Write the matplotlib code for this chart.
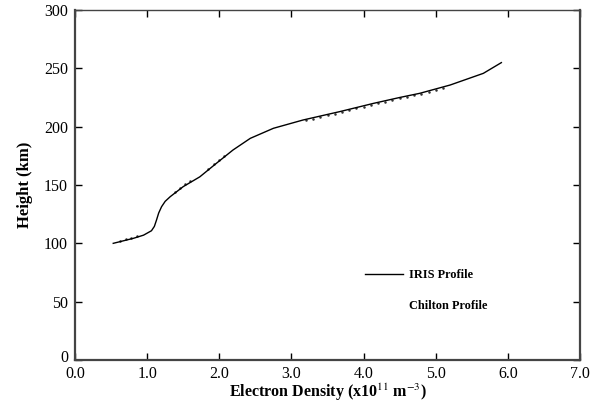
import matplotlib
matplotlib.use("Agg")
import matplotlib.pyplot as plt
import matplotlib.transforms as mtransforms
from matplotlib.lines import Line2D

# IRIS profile (electron density x1e11 m^-3, height km)
iris_density = [0.53, 0.81, 0.95, 1.06, 1.10, 1.13, 1.16, 1.20, 1.25, 1.32, 1.50, 1.73,
                1.96, 2.19, 2.43, 2.75, 3.16, 3.67, 4.14, 4.50, 4.78, 5.20, 5.66, 5.91]
iris_height = [100, 104.3, 107, 110.8, 114.5, 120, 126, 131.4, 136, 140, 148.6, 157,
               168.6, 180, 190, 198.6, 205.7, 212.9, 220, 225, 228.6, 235.7, 245.7, 254.9]

# Chilton profile (sparse dotted points)
chilton_density = [0.62, 0.70, 0.78, 0.86,
                   1.38, 1.45, 1.52, 1.59,
                   1.85, 1.92, 1.99, 2.06,
                   3.2, 3.3, 3.4, 3.5, 3.6, 3.7, 3.8, 3.9, 4.0, 4.1,
                   4.2, 4.3, 4.4, 4.5, 4.6, 4.7, 4.8, 4.9, 5.0, 5.1]
chilton_height = [102.4, 103.6, 104.8, 106.3,
                  144.4, 147.7, 150.8, 153.4,
                  164, 167.6, 171.1, 174.6,
                  205.5, 206.9, 208.3, 209.7, 211.1, 212.6, 214.1, 215.6, 217.1, 218.6,
                  220.0, 221.4, 222.8, 224.2, 225.5, 226.8, 228.2, 229.8, 231.5, 233.2]

x_ticks = [0, 1, 2, 3, 4, 5, 6, 7]
x_labels = ["0.0", "1.0", "2.0", "3.0", "4.0", "5.0", "6.0", "7.0"]
y_ticks = [0, 50, 100, 150, 200, 250, 300]

plt.rcParams['font.family'] = ['Liberation Serif', 'DejaVu Serif']
plt.rcParams['mathtext.fontset'] = 'stix'

fig = plt.figure(figsize=(6.02, 4.04), dpi=100)
ax = fig.add_axes([75/602, 1 - 360/404, (580-75)/602, (360-10)/404])

ax.plot(chilton_density, chilton_height, linestyle='none', marker='.', markersize=1.6,
        color='#333333')
ax.plot(iris_density, iris_height, color='black', linewidth=1.0)

ax.set_xlim(0, 7)
ax.set_ylim(0, 300)
ax.set_xticks(x_ticks)
ax.set_xticklabels(x_labels)
ax.set_yticks(y_ticks)
ax.tick_params(direction='in', length=5, width=1, labelsize=11.5, top=True, right=True,
               pad=5, colors='black')
ax.tick_params(axis='x', pad=4)

# nudge the "0" height label upward, as in the original
ylabels = ax.get_yticklabels()
offset = mtransforms.ScaledTranslation(0, 4.5 / 100, fig.dpi_scale_trans)
ylabels[0].set_transform(ylabels[0].get_transform() + offset)

for s in ['left', 'bottom', 'right']:
    ax.spines[s].set_linewidth(1.6)
    ax.spines[s].set_color('#444444')
ax.spines['top'].set_linewidth(1.0)
ax.spines['top'].set_color('#444444')

ax.set_xlabel(r"Electron Density (x10$^{11}$ m$^{-3}$)", fontsize=11.5, fontweight='bold',
              labelpad=0)
ax.set_ylabel("Height (km)", fontsize=12, fontweight='bold', labelpad=8)

handles = [Line2D([], [], color='black', linewidth=1.0),
           Line2D([], [], linestyle='none', color='white')]
leg = ax.legend(handles, ["IRIS Profile", "Chilton Profile"], frameon=False,
                prop={'size': 8.8, 'weight': 'bold'}, loc='upper left',
                bbox_to_anchor=(0.553, 0.29), handlelength=3.1, labelspacing=1.55,
                handletextpad=0.45)

fig.savefig("out.png", dpi=100)
